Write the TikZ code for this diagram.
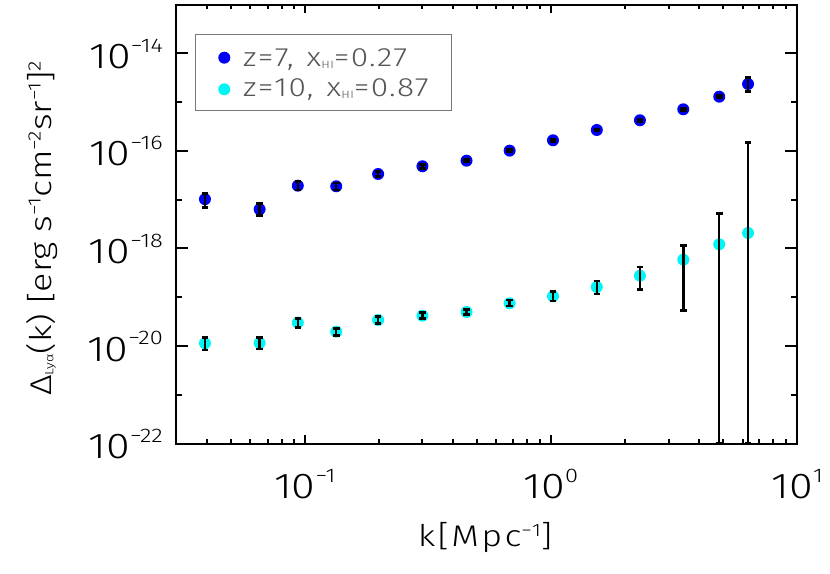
\documentclass[tikz,border=0pt]{standalone}
\usepackage{fontspec}
\setmainfont{Fira Sans Light}[FakeStretch=1.2]
\newfontfamily\spaced{Fira Sans Light}[FakeStretch=1.2, LetterSpace=8]
\newfontfamily\legfont{Fira Sans Light}[FakeStretch=1.2, LetterSpace=5]
\usepackage{graphicx}
\newcommand{\pw}[1]{\raisebox{0.45em}{\scalebox{0.55}{#1}}}
\newcommand{\up}[1]{\raisebox{0.35em}{\scalebox{0.6}{#1}}}
\newcommand{\dn}[1]{\raisebox{-0.08em}{\scalebox{0.4}{#1}}}
\definecolor{ptblue}{RGB}{0,0,245}
\definecolor{ptcyan}{RGB}{0,245,245}
\definecolor{legtext}{RGB}{85,85,85}
\definecolor{legframe}{RGB}{120,120,120}
\begin{document}
\begin{tikzpicture}[x=1bp,y=1bp,
	axis/.style={line width=2bp},
	errbar/.style={line width=2.5bp},
	ticklab/.style={font=\fontsize{36}{40}\selectfont},
	axlab/.style={font=\fontsize{30}{34}\selectfont},
	legtxt/.style={font=\legfont\fontsize{26.5}{30}\selectfont, text=legtext, anchor=base west, inner sep=0pt}]
	\useasboundingbox (0,0) rectangle (830,574);
	\draw[axis] (175.9,130.4) rectangle (797.3,569.3);
	\begin{scope}[shift={(551bp,1203.56bp)}, x=246.3bp, y=48.78bp]
		% ticks on x
		\foreach \lk in {-1,0} {
			\draw[axis] (\lk,-22) -- ++(0,8.8bp);
			\draw[axis] (\lk,-13) -- ++(0,-8.8bp);
		}
		\foreach \k in {0.04,0.05,0.06,0.07,0.08,0.09,0.2,0.3,0.4,0.5,0.6,0.7,0.8,0.9,2,3,4,5,6,7,8,9} {
			\draw[axis] ({log10(\k)},-22) -- ++(0,4.4bp);
			\draw[axis] ({log10(\k)},-13) -- ++(0,-4.4bp);
		}
		% ticks on y
		\foreach \e in {14,16,18,20} {
			\draw[axis] (-1.5229,-\e) -- ++(12.4bp,0);
			\draw[axis] (1,-\e) -- ++(-12.4bp,0);
		}
		\foreach \e in {15,17,19,21} {
			\draw[axis] (-1.5229,-\e) -- ++(6.2bp,0);
			\draw[axis] (1,-\e) -- ++(-6.2bp,0);
		}
		% tick labels
		\foreach \e in {14,16,18,20,22}
			\node[ticklab, anchor=base east, inner sep=0pt, xshift=-12.9bp, yshift=-15bp] (ylab\e) at (-1.5229,-\e) {10\pw{−\e}};
		\node[ticklab, anchor=base, inner sep=0pt, yshift=-55.4bp] (xlabm1) at (-1,-22) {10\pw{−1}};
		\node[ticklab, anchor=base, inner sep=0pt, yshift=-55.4bp] (xlab0) at (0,-22) {10\pw{0}};
		\node[ticklab, anchor=base, inner sep=0pt, yshift=-55.4bp] (xlab1) at (1,-22) {10\pw{1}};
		% z=7
		\foreach \lk/\ld in {-1.405/-16.99,-1.183/-17.197,-1.028/-16.713,-0.872/-16.725,-0.702/-16.473,-0.522/-16.315,-0.343/-16.2,-0.168/-15.995,0.008/-15.782,0.186/-15.571,0.361/-15.372,0.537/-15.147,0.683/-14.888,0.8/-14.628}
			\fill[ptblue] (\lk,\ld) circle[radius=6bp];
		% z=10
		\foreach \lk/\ld in {-1.405/-19.944,-1.183/-19.938,-1.028/-19.521,-0.872/-19.706,-0.702/-19.466,-0.522/-19.378,-0.343/-19.302,-0.168/-19.124,0.008/-18.98,0.186/-18.79,0.361/-18.558,0.537/-18.23,0.683/-17.914,0.8/-17.683}
			\fill[ptcyan] (\lk,\ld) circle[radius=6bp];
		% error bars
		\foreach \lk/\lo/\hi in {-1.405/-17.156/-16.869,-1.183/-17.32/-17.074,-1.028/-16.801/-16.631,-0.872/-16.797/-16.654,-0.702/-16.524/-16.422,-0.522/-16.356/-16.274,-0.343/-16.225/-16.175,-0.168/-16.02/-15.97,0.008/-15.807/-15.757,0.186/-15.596/-15.546,0.361/-15.397/-15.347,0.537/-15.172/-15.122,0.683/-14.913/-14.863,0.8/-14.786/-14.491,
			-1.405/-20.081/-19.821,-1.183/-20.061/-19.821,-1.028/-19.616/-19.431,-0.872/-19.78/-19.636,-0.702/-19.534/-19.399,-0.522/-19.431/-19.316,-0.343/-19.357/-19.247,-0.168/-19.179/-19.056,0.008/-19.077/-18.886,0.186/-18.933/-18.667,0.361/-18.845/-18.38,0.537/-19.276/-17.943,0.683/-22/-17.279,0.8/-22/-15.831}
			\draw[errbar] (\lk,\lo) -- (\lk,\hi) ++(-3.3bp,0) -- ++(6.6bp,0) (\lk,\lo) ++(-3.3bp,0) -- ++(6.6bp,0);
	\end{scope}
	% axis titles
	\node[axlab, anchor=base, inner sep=0pt] (xtitle) at (485,27) {\spaced k[Mpc\up{−1}]};
	\node[axlab, anchor=base, inner sep=0pt, rotate=90] (ytitle) at (51,345.5) {Δ\dn{Lyα}(k) [erg s\up{−1}cm\up{−2}sr\up{−1}]\up{2}};
	% legend
	\draw[legframe, line width=1bp] (195,463) rectangle (451.7,539);
	\fill[ptblue] (224.3,516.3) circle[radius=6bp];
	\fill[ptcyan] (224.3,484.7) circle[radius=6bp];
	\node[legtxt] (leg7) at (243,507.3) {z=7,\hspace{0.5em}x\dn{HI}=0.27};
	\node[legtxt] (leg10) at (243,477.3) {z=10,\hspace{0.5em}x\dn{HI}=0.87};
\end{tikzpicture}
\end{document}
